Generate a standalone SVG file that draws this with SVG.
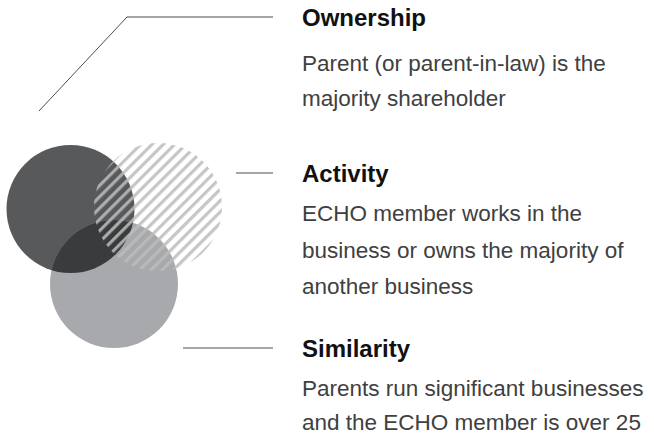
<svg xmlns="http://www.w3.org/2000/svg" width="654" height="436" viewBox="0 0 654 436">
  <style>
    .title { font-family: "Liberation Sans", Arial, sans-serif; font-weight: bold; font-size: 24px; fill: #111111; }
    .body { font-family: "Liberation Sans", Arial, sans-serif; font-size: 22.5px; fill: #404040; }
    .conn { fill: none; stroke: #4d4d4d; stroke-width: 1; }
  </style>
  <defs>
    <pattern id="stripes" patternUnits="userSpaceOnUse" width="8" height="8" patternTransform="rotate(45)">
      <rect x="0" y="0" width="3.2" height="8" fill="#bcbcbc"/>
    </pattern>
    <clipPath id="clipDark">
      <circle cx="70.5" cy="209" r="64"/>
    </clipPath>
  </defs>
  <rect width="654" height="436" fill="#ffffff"/>

  <g id="venn">
    <circle id="circle-ownership" cx="70.5" cy="209" r="64" fill="#58595b"/>
    <circle id="circle-similarity" cx="114" cy="284" r="64" fill="#a7a9ac"/>
    <circle cx="114" cy="284" r="64" fill="#3a3b3d" clip-path="url(#clipDark)"/>
    <circle id="circle-activity" cx="158" cy="207" r="64" fill="url(#stripes)" opacity="0.85"/>
  </g>

  <g id="connectors">
    <path class="conn" d="M39,111 L127,17 L273,17"/>
    <path class="conn" d="M236,173 L273,173"/>
    <path class="conn" d="M183,348 L273,348"/>
  </g>

  <g id="ownership">
    <text class="title" x="302" y="26">Ownership</text>
    <text class="body" x="302" y="71">Parent (or parent-in-law) is the</text>
    <text class="body" x="302" y="106">majority shareholder</text>
  </g>

  <g id="activity">
    <text class="title" x="302" y="182">Activity</text>
    <text class="body" x="302" y="221">ECHO member works in the</text>
    <text class="body" x="302" y="258">business or owns the majority of</text>
    <text class="body" x="302" y="294">another business</text>
  </g>

  <g id="similarity">
    <text class="title" x="302" y="357">Similarity</text>
    <text class="body" x="302" y="396">Parents run significant businesses</text>
    <text class="body" x="302" y="430">and the ECHO member is over 25</text>
  </g>
</svg>
